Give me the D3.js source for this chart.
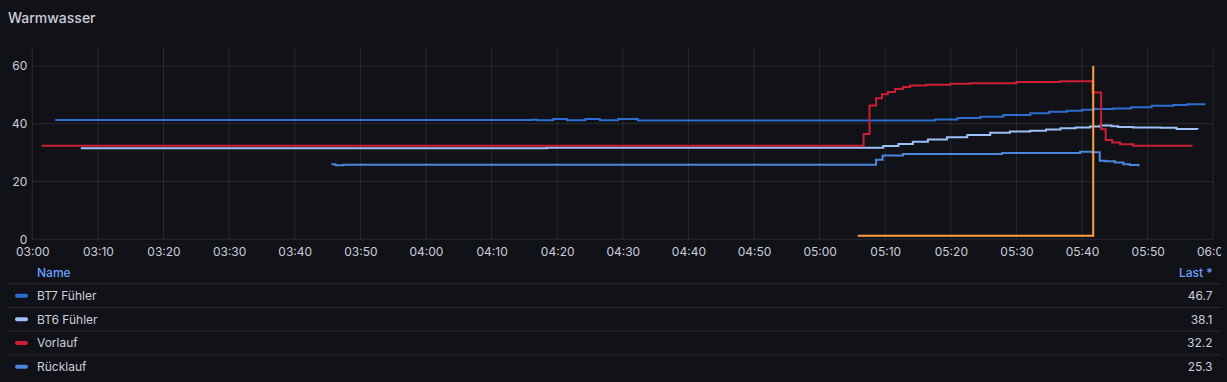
<!DOCTYPE html>
<html>
<head>
<meta charset="utf-8">
<script src="https://cdn.jsdelivr.net/npm/d3@7"></script>
<style>
  html, body { margin: 0; padding: 0; background: #111217; }
  svg { display: block; font-family: Inter, "Noto Sans", sans-serif; }
</style>
</head>
<body>
<svg id="chart" width="1227" height="382"></svg>
<script>
// ---------- DATA ----------
const title = "Warmwasser";
const timeDomain = ["03:00:00", "06:00:00"];
const yTicks = [0, 20, 40, 60];
const yMax = 66.2;

const seriesNames = ["BT7 Fühler", "BT6 Fühler", "Vorlauf", "Rücklauf"];
const seriesColors = ["#2e6ed0", "#9dc0f8", "#cc1f36", "#4a86dc"];
const lastValues = ["46.7", "38.1", "32.2", "25.3"];

const bt7 = [
  ["03:03:30", 41.3], ["04:16:12", 41.4], ["04:17:00", 41.2], ["04:19:24", 41.6],
  ["04:21:30", 41.2], ["04:24:18", 41.6], ["04:26:30", 41.2], ["04:29:18", 41.6],
  ["04:32:18", 41.1], ["05:17:36", 41.5], ["05:21:00", 42.0], ["05:24:30", 42.4],
  ["05:28:00", 43.0], ["05:32:06", 43.6], ["05:35:00", 44.1], ["05:37:42", 44.5],
  ["05:40:00", 44.8], ["05:41:42", 45.1], ["05:44:42", 45.3], ["05:47:30", 45.7],
  ["05:50:36", 46.2], ["05:53:54", 46.5], ["05:56:00", 46.7], ["05:58:48", 46.7]
];
const bt6 = [
  ["03:07:24", 31.5], ["04:18:24", 31.7], ["05:09:42", 32.3], ["05:12:00", 33.0],
  ["05:14:12", 33.8], ["05:16:30", 34.5], ["05:19:24", 35.3], ["05:22:30", 36.1],
  ["05:26:00", 36.9], ["05:29:00", 37.3], ["05:32:06", 37.6], ["05:34:30", 38.0],
  ["05:36:42", 38.4], ["05:39:00", 38.7], ["05:41:12", 39.0], ["05:42:48", 39.4],
  ["05:44:30", 39.1], ["05:45:30", 38.9], ["05:47:48", 38.7], ["05:52:00", 38.6],
  ["05:54:24", 38.2], ["05:57:36", 38.1]
];
const vorlauf = [
  ["03:01:24", 32.4], ["05:06:42", 36.4], ["05:07:36", 46.3], ["05:08:36", 48.8],
  ["05:09:30", 50.2], ["05:10:24", 51.0], ["05:11:30", 52.0], ["05:12:42", 52.7],
  ["05:13:48", 53.2], ["05:16:12", 53.5], ["05:19:54", 53.8], ["05:22:54", 54.0],
  ["05:30:00", 54.4], ["05:36:42", 54.7], ["05:41:36", 50.8], ["05:42:54", 38.1],
  ["05:43:36", 34.4], ["05:44:36", 33.5], ["05:45:48", 32.9], ["05:47:48", 32.4],
  ["05:56:42", 32.2]
];
const ruecklauf = [
  ["03:45:36", 26.0], ["03:46:12", 25.6], ["03:47:24", 25.8], ["05:08:36", 27.5],
  ["05:09:36", 29.0], ["05:12:42", 29.5], ["05:27:48", 29.9], ["05:39:42", 30.3],
  ["05:41:30", 30.1], ["05:42:42", 27.2], ["05:43:30", 27.0], ["05:45:00", 26.6],
  ["05:46:18", 26.0], ["05:47:18", 25.7], ["05:48:36", 25.3]
];
const anforderung = [
  ["05:05:48", 1.2], ["05:41:42", 1.2], ["05:41:42", 60]
];
const anforderungColor = "#ff9f40";

// ---------- DRAW ----------
const parse = d3.timeParse("%H:%M:%S");
const svg = d3.select("#chart");
const W = 1227;
const plot = { left: 32.3, right: 1213.3, top: 48, bottom: 239.3 };

svg.append("rect").attr("width", W).attr("height", 382).attr("fill", "#111217");

svg.append("text").attr("x", 8).attr("y", 23)
  .attr("fill", "#ccccdc").attr("font-size", 14).attr("font-weight", 500)
  .text(title);

const x = d3.scaleTime().domain(timeDomain.map(parse)).range([plot.left, plot.right]);
const y = d3.scaleLinear().domain([0, yMax]).range([plot.bottom, plot.top]);

const gridColor = "rgba(204,204,220,0.12)";
const xTicks = x.ticks(d3.timeMinute.every(10));

svg.append("clipPath").attr("id", "panelClip")
  .append("rect").attr("x", 0).attr("y", 0).attr("width", 1221).attr("height", 382);

svg.append("g").selectAll("line").data(xTicks).join("line")
  .attr("x1", d => x(d)).attr("x2", d => x(d))
  .attr("y1", plot.top).attr("y2", plot.bottom)
  .attr("stroke", gridColor).attr("stroke-width", 1);
svg.append("g").selectAll("line").data(yTicks).join("line")
  .attr("x1", plot.left).attr("x2", plot.right)
  .attr("y1", d => y(d)).attr("y2", d => y(d))
  .attr("stroke", gridColor).attr("stroke-width", 1);

const xAxis = d3.axisBottom(x).tickValues(xTicks).tickFormat(d3.timeFormat("%H:%M")).tickSize(0).tickPadding(8);
const gx = svg.append("g").attr("transform", `translate(0,${plot.bottom})`)
  .attr("clip-path", "url(#panelClip)").call(xAxis);
gx.select(".domain").remove();
gx.selectAll("text").attr("fill", "#ccccdc").attr("font-size", 12)
  .attr("font-family", "Inter, 'Noto Sans', sans-serif");

const yAxis = d3.axisLeft(y).tickValues(yTicks).tickSize(0).tickPadding(5);
const gy = svg.append("g").attr("transform", `translate(${plot.left},0)`).call(yAxis);
gy.select(".domain").remove();
gy.selectAll("text").attr("fill", "#ccccdc").attr("font-size", 12)
  .attr("font-family", "Inter, 'Noto Sans', sans-serif");

const line = d3.line().curve(d3.curveStepAfter)
  .x(d => x(parse(d[0]))).y(d => y(d[1]));

const series = [bt7, bt6, vorlauf, ruecklauf];
const g = svg.append("g");
series.forEach((s, i) => {
  g.append("path").datum(s).attr("d", line)
    .attr("fill", "none").attr("stroke", seriesColors[i]).attr("stroke-width", 2);
});
g.append("path").datum(anforderung).attr("d", line)
  .attr("fill", "none").attr("stroke", anforderungColor).attr("stroke-width", 2);

// ---------- LEGEND (table) ----------
const legend = svg.append("g").attr("font-size", 12);
legend.append("text").attr("x", 37).attr("y", 272.5).attr("dy", "0.35em")
  .attr("fill", "#6e9fff").attr("font-weight", 500).text("Name");
legend.append("text").attr("x", 1212.5).attr("y", 272.5).attr("dy", "0.35em")
  .attr("text-anchor", "end").attr("fill", "#6e9fff").attr("font-weight", 500).text("Last *");

const rowTop = 283.3, rowH = 23.7;
const rows = legend.selectAll("g.row").data(seriesNames).join("g").attr("class", "row")
  .attr("transform", (d, i) => `translate(0,${rowTop + i * rowH})`);
rows.append("line").attr("x1", 8).attr("x2", 1221).attr("y1", 0.5).attr("y2", 0.5)
  .attr("stroke", gridColor);
rows.append("rect").attr("x", 15).attr("y", rowH / 2 - 1.5).attr("width", 13).attr("height", 4)
  .attr("rx", 2).attr("fill", (d, i) => seriesColors[i]);
rows.append("text").attr("x", 37).attr("y", rowH / 2 + 0.5).attr("dy", "0.35em")
  .attr("fill", "#ccccdc").text(d => d);
rows.append("text").attr("x", 1212.5).attr("y", rowH / 2 + 0.5).attr("dy", "0.35em")
  .attr("text-anchor", "end").attr("fill", "#ccccdc").text((d, i) => lastValues[i]);
</script>
</body>
</html>
